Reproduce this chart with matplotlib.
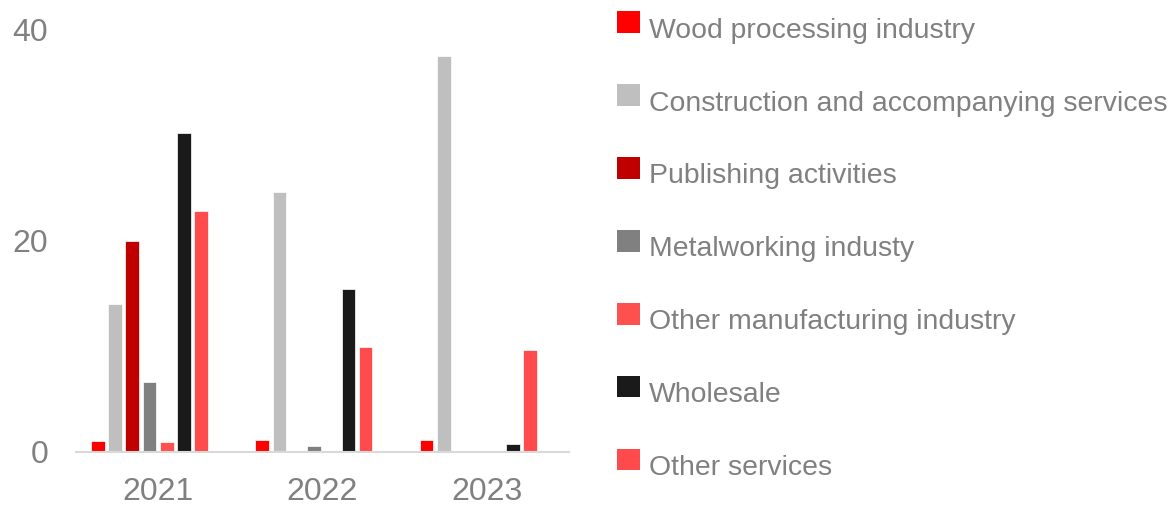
import matplotlib
matplotlib.use("Agg")
import matplotlib.pyplot as plt
import numpy as np

years = ["2021", "2022", "2023"]
sectors = [
    "Wood processing industry",
    "Construction and accompanying services",
    "Publishing activities",
    "Metalworking industy",
    "Other manufacturing industry",
    "Wholesale",
    "Other services",
]
wood = [1.0, 1.1, 1.1]
construction = [14.0, 24.6, 37.5]
publishing = [20.0, 0.0, 0.0]
metalworking = [6.6, 0.5, 0.0]
other_manufacturing = [0.9, 0.0, 0.0]
wholesale = [30.2, 15.4, 0.7]
other_services = [22.8, 9.9, 9.6]

series = [wood, construction, publishing, metalworking,
          other_manufacturing, wholesale, other_services]
colors = ["#FF0000", "#BFBFBF", "#C00000", "#808080",
          "#FF5050", "#1A1A1A", "#FF4B4B"]

TEXT = "#808080"
plt.rcParams["font.family"] = ["Liberation Sans", "DejaVu Sans"]

W, H, DPI = 1171, 505, 100
fig = plt.figure(figsize=(W / DPI, H / DPI), dpi=DPI)
ax = fig.add_axes([76 / W, (H - 451.5) / H, (569 - 76) / W, 422 / H])

x = np.arange(len(years))
step = 0.105
width = 0.083
for i, (vals, c, name) in enumerate(zip(series, colors, sectors)):
    ax.bar(x + (i - 3.5) * step, vals, width, color=c, label=name,
           edgecolor="white", linewidth=0.5)

ax.set_xlim(-0.5, 2.5)
ax.set_ylim(0, 40)
ax.set_yticks([0, 20, 40])
ax.set_xticks(x)
ax.set_xticklabels(years)
ax.tick_params(axis="both", length=0, labelsize=23, labelcolor=TEXT)
ax.tick_params(axis="y", pad=20)
ax.tick_params(axis="x", pad=18)
for side in ["top", "right", "left"]:
    ax.spines[side].set_visible(False)
ax.spines["bottom"].set_color("#D9D9D9")
ax.spines["bottom"].set_linewidth(1.5)

leg = fig.legend(loc="upper left", bbox_to_anchor=(617 / W, 1 - 17 / H),
                 frameon=False, fontsize=20.4, labelcolor=TEXT,
                 handlelength=0.8, handleheight=0.8, handletextpad=0.33,
                 labelspacing=1.63, borderpad=0, borderaxespad=0)
# squares sit a little above the text line
for h in leg.legend_handles:
    h.set_linewidth(0)
    h.set_y(h.get_y() + 4)

fig.savefig("out.png", dpi=DPI)
